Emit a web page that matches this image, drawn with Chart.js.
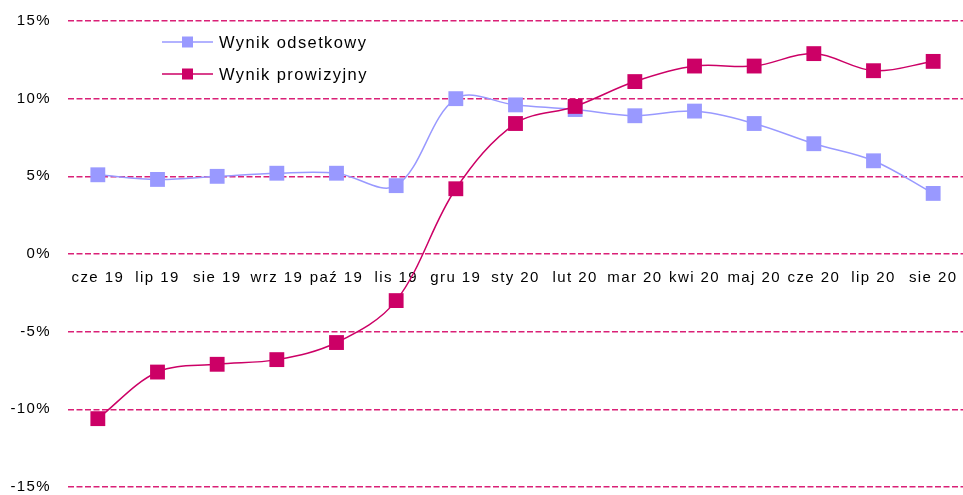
<!DOCTYPE html>
<html>
<head>
<meta charset="utf-8">
<script src="https://cdn.jsdelivr.net/npm/chart.js@4"></script>
<style>
  html, body { margin: 0; padding: 0; background: #fff; }
  #wrap { position: relative; width: 963px; height: 495px; }
</style>
</head>
<body>
<div id="wrap"><canvas id="wykres"></canvas></div>
<script>
const miesiace = ['cze 19', 'lip 19', 'sie 19', 'wrz 19', 'paź 19', 'lis 19', 'gru 19', 'sty 20',
                  'lut 20', 'mar 20', 'kwi 20', 'maj 20', 'cze 20', 'lip 20', 'sie 20'];
const wynikOdsetkowy = [5.1, 4.8, 5.0, 5.2, 5.2, 4.4, 10.0, 9.6, 9.3, 8.9, 9.2, 8.4, 7.1, 6.0, 3.9];
const wynikProwizyjny = [-10.6, -7.6, -7.1, -6.8, -5.7, -3.0, 4.2, 8.4, 9.5, 11.1, 12.1, 12.1, 12.9, 11.8, 12.4];
const nazwySerii = ['Wynik odsetkowy', 'Wynik prowizyjny'];
const kolory = ['#9999FF', '#CC0066'];
const czcionka = '"Liberation Sans", Arial, sans-serif';

// duze markery nie maja odsuwac obszaru wykresu od krawedzi
Chart.registry.getController('line').prototype.getMaxOverflow = () => 0;

// rozstrzelone litery jak w oryginale (Excel)
const odstepy = {
    id: 'odstepy',
    beforeLayout(chart) { chart.ctx.letterSpacing = '1.4px'; },
    beforeDraw(chart) { chart.ctx.letterSpacing = '1.4px'; }
};

// legenda rysowana wewnatrz obszaru wykresu (lewy gorny rog)
const legendaWewnatrz = {
    id: 'legendaWewnatrz',
    afterDraw(chart) {
        const c = chart.ctx;
        const x0 = 162, y0 = 42, krok = 32;
        c.save();
        c.font = '16.5px ' + czcionka;
        c.textBaseline = 'middle';
        nazwySerii.forEach((n, i) => {
            const y = y0 + i * krok;
            c.strokeStyle = kolory[i];
            c.lineWidth = 1.5;
            c.beginPath();
            c.moveTo(x0, y);
            c.lineTo(x0 + 51, y);
            c.stroke();
            c.fillStyle = kolory[i];
            c.fillRect(x0 + 20, y - 5.5, 11, 11);
            c.fillStyle = '#000';
            c.fillText(n, x0 + 57, y + 1);
        });
        c.restore();
    }
};

const ctx = document.getElementById('wykres').getContext('2d');
const wykres = new Chart(ctx, {
    type: 'line',
    data: {
        labels: miesiace,
        datasets: [{
            label: nazwySerii[0],
            data: wynikOdsetkowy,
            order: 1,
            borderColor: kolory[0],
            backgroundColor: kolory[0],
            borderWidth: 1.5,
            pointStyle: 'rect',
            pointRadius: 10.5,
            pointHoverRadius: 10.5,
            pointBorderWidth: 0,
            tension: 0.35
        }, {
            label: nazwySerii[1],
            data: wynikProwizyjny,
            order: 0, // rysowana na wierzchu
            borderColor: kolory[1],
            backgroundColor: kolory[1],
            borderWidth: 1.5,
            pointStyle: 'rect',
            pointRadius: 10.5,
            pointHoverRadius: 10.5,
            pointBorderWidth: 0,
            tension: 0.35
        }]
    },
    options: {
        responsive: true,
        maintainAspectRatio: false,
        animation: false,
        layout: { padding: { top: 21, right: 0, bottom: 8, left: 0 } },
        plugins: {
            legend: { display: false },
            title: { display: false },
            tooltip: { enabled: false }
        },
        scales: {
            x: {
                position: { y: 0 },
                offset: true,
                grid: { display: false, offset: true },
                border: { display: false },
                afterFit(s) {
                    // os X lezy na zerze, nie zabiera miejsca pod wykresem
                    s.height = 0;
                    s.paddingLeft = 0;
                    s.paddingRight = 0;
                },
                ticks: {
                    color: '#000',
                    padding: 7,
                    maxRotation: 0,
                    autoSkip: false,
                    font: { family: czcionka, size: 15 }
                }
            },
            y: {
                min: -15,
                max: 15,
                afterFit(s) {
                    s.width = 68;
                    s.paddingTop = 0;
                    s.paddingBottom = 0;
                },
                grid: {
                    color: '#DA2077',
                    lineWidth: 1.5,
                    drawTicks: false
                },
                border: { display: false, dash: [6, 2.5] },
                ticks: {
                    stepSize: 5,
                    color: '#000',
                    padding: 17,
                    font: { family: czcionka, size: 15 },
                    callback: v => v + '%'
                }
            }
        }
    },
    plugins: [odstepy, legendaWewnatrz]
});
</script>
</body>
</html>
